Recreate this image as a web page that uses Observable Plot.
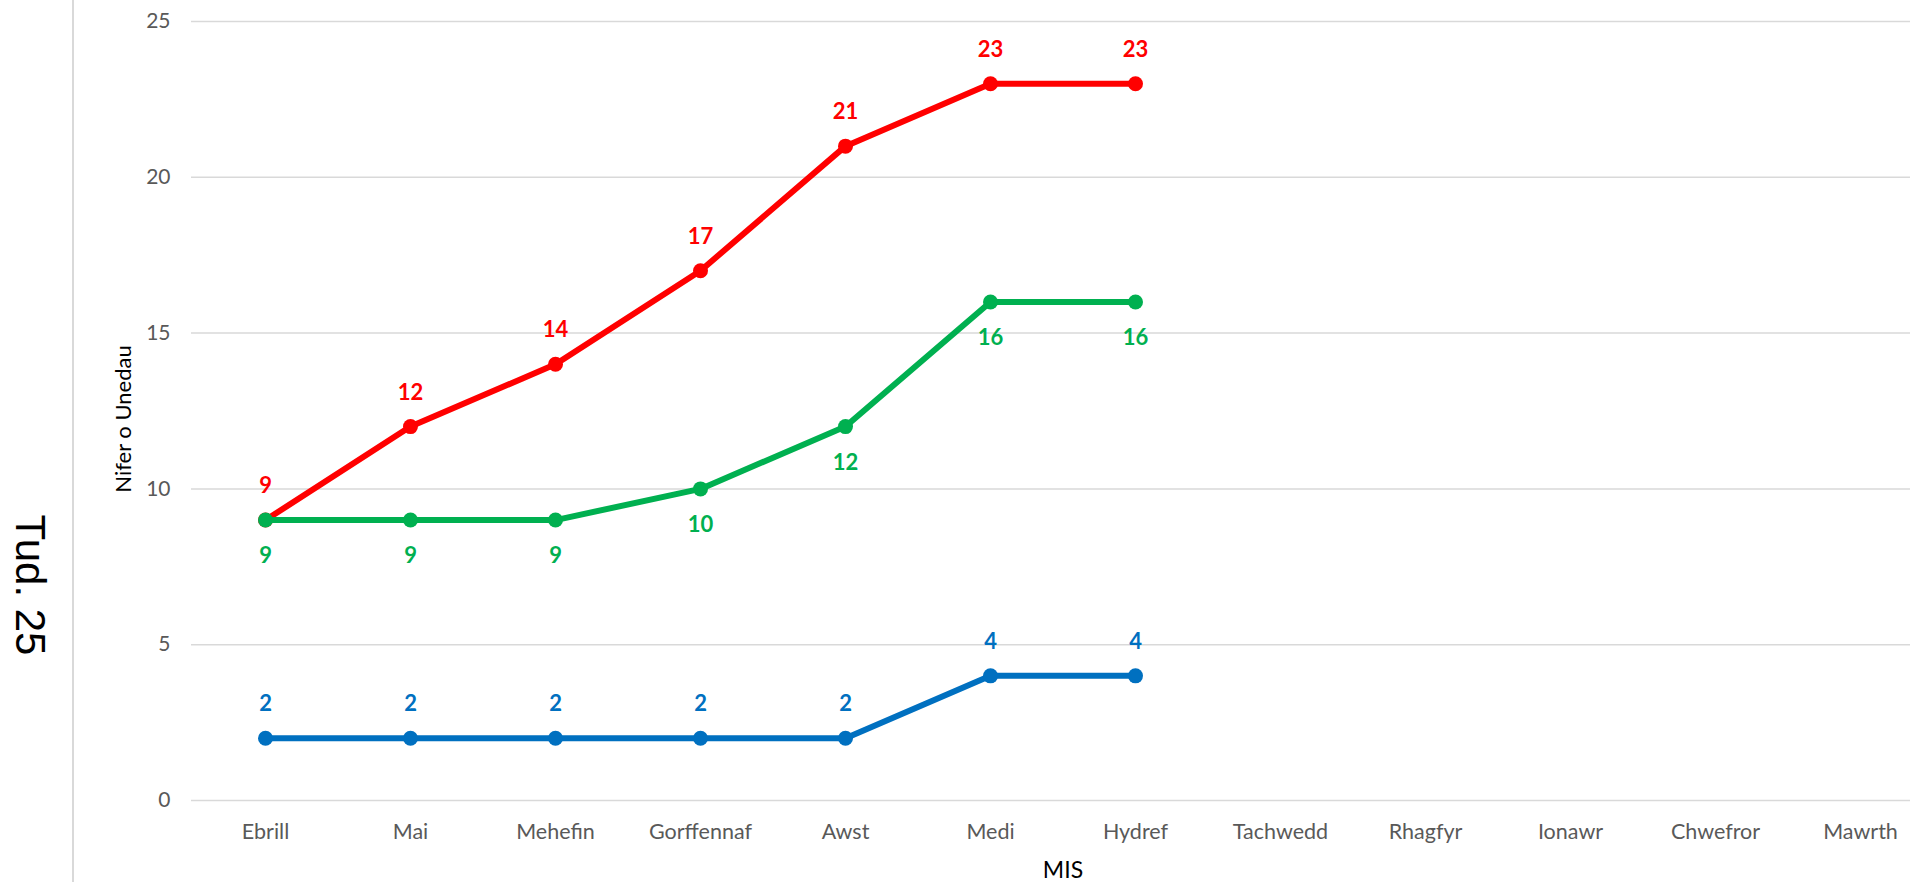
<!DOCTYPE html>
<html><head><meta charset="utf-8">
<script src="https://cdn.jsdelivr.net/npm/d3@7"></script>
<script src="https://cdn.jsdelivr.net/npm/@observablehq/plot@0.6"></script>
<style>
html,body{margin:0;padding:0;overflow:hidden;background:#fff;width:1910px;height:882px;}
#wrap{position:relative;width:1910px;height:882px;overflow:hidden;}
#chart{position:absolute;left:0;top:0;width:1934px;}
#chart svg{max-width:none !important;}
#sideline{position:absolute;left:72px;top:0;width:2px;height:882px;background:#d9d9d9;}
.rot{position:absolute;white-space:nowrap;transform:translate(-50%,-50%);}
#tud{left:30px;top:585px;font-family:"Liberation Sans",Arial,sans-serif;font-size:42px;color:#000;transform:translate(-50%,-50%) rotate(90deg);}
#ytitle{left:122px;top:419px;font-family:Lato,sans-serif;font-size:22px;color:#000;transform:translate(-50%,-50%) rotate(-90deg);}
#xtitle{left:1063px;top:869px;font-family:Lato,sans-serif;font-size:23px;color:#000;}
</style></head><body>
<div id="wrap">
  <div id="chart"></div>
  <div id="sideline"></div>
  <div id="tud" class="rot">Tud. 25</div>
  <div id="ytitle" class="rot">Nifer o Unedau</div>
  <div id="xtitle" class="rot">MIS</div>
</div>
<script>
const months = ["Ebrill","Mai","Mehefin","Gorffennaf","Awst","Medi","Hydref","Tachwedd","Rhagfyr","Ionawr","Chwefror","Mawrth"];
const redValues = [9,12,14,17,21,23,23];
const greenValues = [9,9,9,10,12,16,16];
const blueValues = [2,2,2,2,2,4,4];
const yTicks = [0,5,10,15,20,25];

const toRows = (vals) => vals.map((v,i) => ({month: months[i], value: v}));
const red = toRows(redValues), green = toRows(greenValues), blue = toRows(blueValues);

const series = [
  {data: red, color: "#ff0000", dy: -34},
  {data: green, color: "#00b050", dy: 36},
  {data: blue, color: "#0070c0", dy: -34}
];

const marks = [
  Plot.ruleY(yTicks, {stroke: "#d9d9d9", strokeWidth: 1.5}),
  Plot.axisY({ticks: yTicks, tickSize: 0, tickPadding: 21, fontSize: 21, fill: "#595959", label: null}),
  Plot.axisX({tickSize: 0, tickPadding: 23, fontSize: 21.5, fill: "#595959", label: null})
];
for (const s of series) {
  marks.push(Plot.line(s.data, {x: "month", y: "value", stroke: s.color, strokeWidth: 6, strokeLinejoin: "round"}));
  marks.push(Plot.dot(s.data, {x: "month", y: "value", fill: s.color, r: 7.5}));
  marks.push(Plot.text(s.data, {x: "month", y: "value", text: d => String(d.value), fill: s.color, dy: s.dy, fontSize: 22, fontWeight: "bold"}));
}

const chart = Plot.plot({
  width: 1934,
  height: 882,
  marginLeft: 191,
  marginRight: 0,
  marginTop: 21,
  marginBottom: 82,
  style: {fontFamily: "Lato, sans-serif", background: "transparent", overflow: "visible", maxWidth: "none"},
  x: {type: "point", domain: months, padding: 0.5},
  y: {domain: [0, 25]},
  marks
});
chart.style.maxWidth = "none";
chart.style.width = "1934px";
chart.style.height = "882px";
document.getElementById("chart").appendChild(chart);
</script>
</body></html>
